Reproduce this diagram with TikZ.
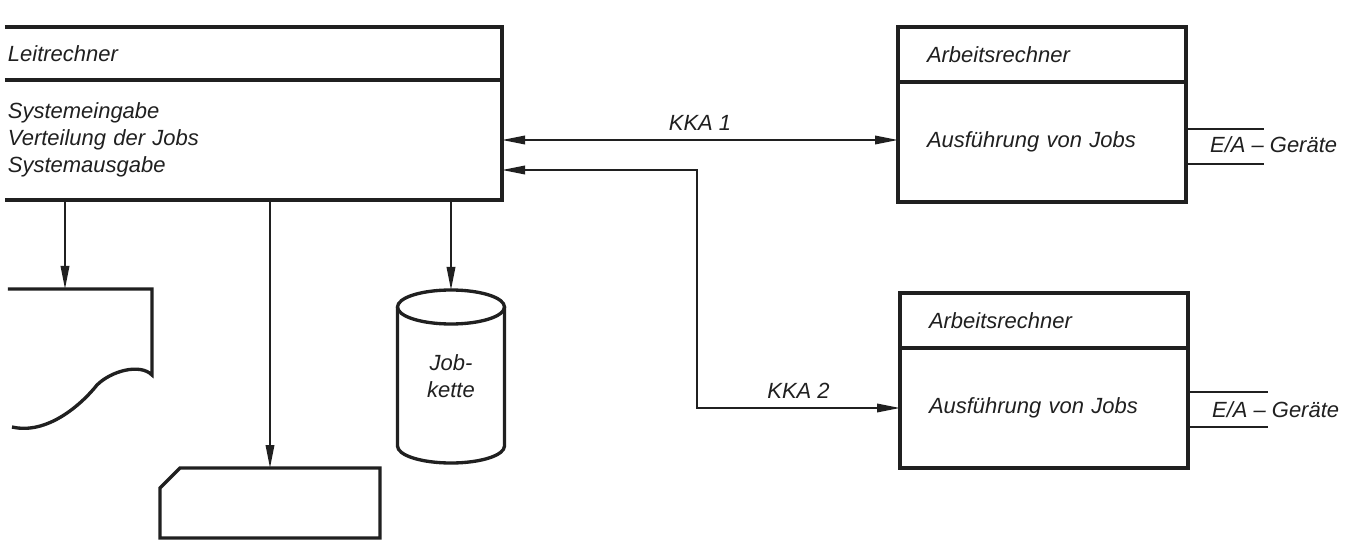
\documentclass[tikz,border=0pt]{standalone}
\usepackage{fontspec}
\setmainfont{Liberation Sans}
\usetikzlibrary{arrows.meta,positioning,calc}
\definecolor{ink}{HTML}{202020}
\tikzset{
  fc/line/.style={draw=ink, line width=1.9pt},
  fc/part/.style={fc/line, outer sep=0pt, inner ysep=0pt, align=left, font=\itshape\fontsize{12.5}{15.3}\selectfont, text=ink},
  fc/work/.style={fc/part, minimum width=57.6mm, inner xsep=5.8mm, text width=46mm},
  fc/host/.style={fc/part, draw=none, minimum width=99.4mm, inner xsep=0.6mm, text width=98.2mm},
  fc/blank/.style={outer sep=0pt, inner sep=0pt, align=center, font=\itshape\fontsize{12.5}{15.3}\selectfont, text=ink},
  fc/arrow/.style={draw=ink, line width=1.1pt, -{Triangle[length=4.6mm,width=1.7mm]}},
  fc/both/.style={draw=ink, line width=1.1pt, {Triangle[length=4.6mm,width=1.7mm]}-{Triangle[length=4.6mm,width=1.7mm]}},
  fc/wire/.style={draw=ink, line width=1pt},
  fc/label/.style={font=\itshape\fontsize{12.5}{14}\selectfont, text=ink, inner sep=1pt}
}

\begin{document}
\begin{tikzpicture}[x=0.2mm, y=-0.2mm]
  \useasboundingbox[fill=white] (0,0) rectangle (1351,542);

  % Leitrechner (left edge cut off)
  \node[fc/host, minimum height=10.6mm] (lrhead) at (253.5,53.5) {Leitrechner};
  \node[fc/host, minimum height=24mm, below=0pt of lrhead] (lrbody) {Systemeingabe\\Verteilung der Jobs\\Systemausgabe};
  \draw[fc/line] (lrhead.north west) -- (lrhead.north east) -- (lrbody.south east) -- (lrbody.south west);
  \draw[fc/line] (lrhead.south west) -- (lrhead.south east);

  % Arbeitsrechner
  \node[fc/work, minimum height=11mm] (ar1head) at (1042,54.5) {Arbeitsrechner};
  \node[fc/work, minimum height=24mm, below=0pt of ar1head] (ar1body) {Ausführung von Jobs};
  \node[fc/work, minimum height=11mm] (ar2head) at (1044,320.5) {Arbeitsrechner};
  \node[fc/work, minimum height=24mm, below=0pt of ar2head] (ar2body) {Ausführung von Jobs};

  \draw[fc/wire] ($(ar1body.east)+(0,-13)$) -- ++(78,0);
  \draw[fc/wire] ($(ar1body.east)+(0,22)$) -- ++(78,0);
  \node[fc/label, anchor=west] (io1) at ($(ar1body.east)+(22,3)$) {E/A – Geräte};
  \draw[fc/wire] ($(ar2body.east)+(0,-16)$) -- ++(80,0);
  \draw[fc/wire] ($(ar2body.east)+(0,19)$) -- ++(80,0);
  \node[fc/label, anchor=west] (io2) at ($(ar2body.east)+(22,2)$) {E/A – Geräte};

  % Kanalkopplungen
  \coordinate (k2) at (697,170);
  \draw[fc/both] (lrbody.east) -- (lrbody.east -| ar1body.west) node[midway, above=1.4mm, fc/label] {KKA 1};
  \draw[fc/both] (k2 -| lrbody.east) -- (k2) |- (ar2body.west) node[pos=0.75, above=1.4mm, fc/label] {KKA 2};

  % Peripherie
  \node[fc/blank, minimum width=28.8mm, minimum height=28.2mm] (doc) at (80,359.5) {};
  \node[fc/blank, minimum width=44mm, minimum height=14mm] (card) at (270,503) {};
  \node[fc/blank, minimum width=21.4mm, minimum height=34.6mm] (jk) at (451,376.5) {Job-\\kette};
  \coordinate (docin) at ($(doc.north)+(-15,0)$);

  \draw[fc/line] (doc.north west) -- (doc.north east) -- ($(doc.north east)+(0,86)$)
    .. controls +(-12,-12) and +(14,-14) .. ($(doc.north east)+(-55,96)$)
    .. controls +(-16,20) and +(35,8) .. ($(doc.south west)+(4,-3)$);
  \draw[fc/line] ($(card.north west)+(20,0)$) -- (card.north east) -- (card.south east) -- (card.south west) -- ($(card.north west)+(0,20)$) -- cycle;
  \draw[fc/line] ($(jk.north)+(0,17)$) ellipse [x radius=10.7mm, y radius=3.4mm];
  \draw[fc/line] ($(jk.north west)+(0,17)$) -- ($(jk.south west)+(0,-17)$) arc[start angle=180, end angle=360, x radius=10.7mm, y radius=3.4mm] -- ($(jk.north east)+(0,17)$);

  \draw[fc/arrow] (lrbody.south -| docin) -- (docin);
  \draw[fc/arrow] (lrbody.south -| card.north) -- (card.north);
  \draw[fc/arrow] (lrbody.south -| jk.north) -- (jk.north);
\end{tikzpicture}
\end{document}
